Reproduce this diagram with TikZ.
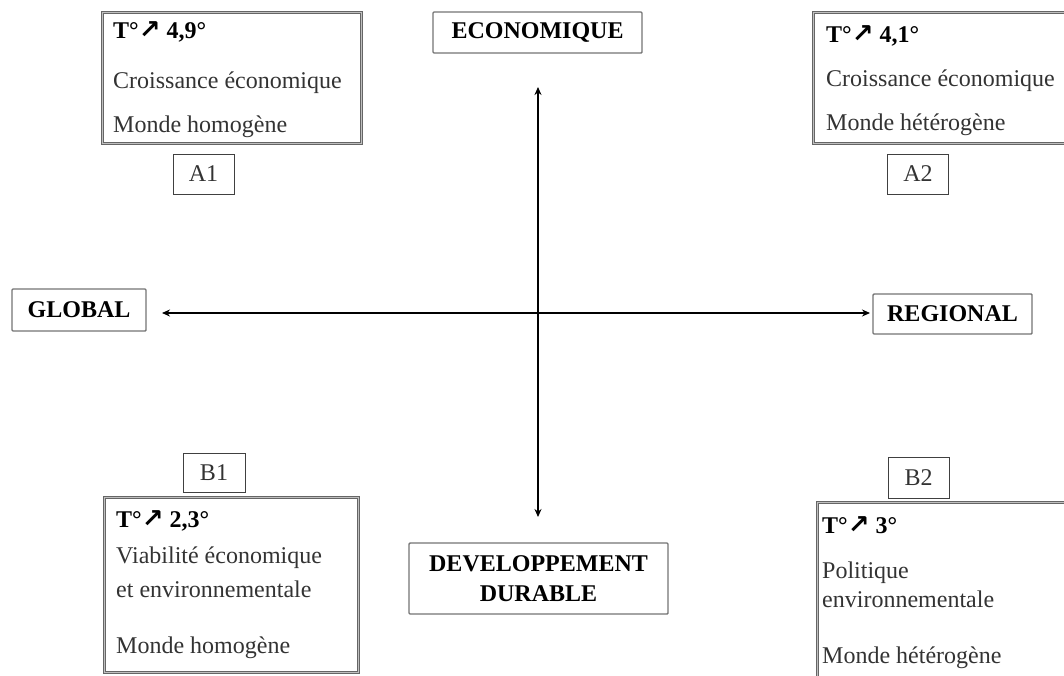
\documentclass[tikz,border=0pt]{standalone}
\usepackage{fontspec}
\setmainfont{Liberation Serif}
\newfontfamily\arrowfont{DejaVu Sans}
\usetikzlibrary{arrows.meta}
\newcommand{\up}{{\arrowfont\bfseries\fontsize{26}{28}\selectfont ↗}}
\begin{document}
\begin{tikzpicture}[x=1pt,y=-1pt,
  bigbox/.style={draw=black!60, double=black!25, double distance=1.1pt, line width=1pt, inner sep=0pt, anchor=north west},
  axisbox/.style={draw=black!55, line width=1.4pt, rounded corners=1pt, inner sep=0pt, font=\fontsize{24}{30}\selectfont\bfseries, align=center},
  lab/.style={draw=black!75, line width=0.9pt, inner sep=0pt, font=\fontsize{24}{28}\selectfont, text=black!80},
  txt/.style={anchor=base west, inner sep=0pt, font=\fontsize{24}{28}\selectfont, text=black!80},
  hd/.style={anchor=base west, inner sep=0pt, font=\fontsize{24}{28}\selectfont\bfseries, text=black},
  axis/.style={line width=1.5pt, {Stealth[length=8pt,width=7pt]}-{Stealth[length=8pt,width=7pt]}}
]
\useasboundingbox (0,0) rectangle (1064,675);
\clip (0,0) rectangle (1064,675);

% top-left scenario
\node[bigbox, minimum width=259pt, minimum height=131pt] (A1box) at (102,12) {};
\node[hd] (A1h) at (113,38) {T°\up\ 4,9°};
\node[txt] (A1a) at (113,88) {Croissance économique};
\node[txt] (A1b) at (113,132) {Monde homogène};
\node[lab, minimum width=61pt, minimum height=40pt] (A1) at (203.5,174) {A1};

% top-right scenario
\node[bigbox, minimum width=260pt, minimum height=131pt] (A2box) at (813,12) {};
\node[hd] (A2h) at (826,42) {T°\up\ 4,1°};
\node[txt] (A2a) at (826,86) {Croissance économique};
\node[txt] (A2b) at (826,130) {Monde hétérogène};
\node[lab, minimum width=61pt, minimum height=40pt] (A2) at (918,174) {A2};

% bottom-left scenario
\node[lab, minimum width=62pt, minimum height=39pt] (B1) at (214,472.5) {B1};
\node[bigbox, minimum width=254pt, minimum height=175pt] (B1box) at (104,497) {};
\node[hd] (B1h) at (116,527) {T°\up\ 2,3°};
\node[txt] (B1a) at (116,563) {Viabilité économique};
\node[txt] (B1b) at (116,597) {et environnementale};
\node[txt] (B1c) at (116,653) {Monde homogène};

% bottom-right scenario
\node[lab, minimum width=61pt, minimum height=41pt] (B2) at (918.5,478) {B2};
\node[bigbox, minimum width=260pt, minimum height=190pt] (B2box) at (817,502) {};
\node[hd] (B2h) at (822,533) {T°\up\ 3°};
\node[txt] (B2a) at (822,578) {Politique};
\node[txt] (B2b) at (822,607) {environnementale};
\node[txt] (B2c) at (822,663) {Monde hétérogène};

% axis labels
\node[axisbox, minimum width=209pt, minimum height=41pt] (eco) at (537.5,32.5) {ECONOMIQUE};
\node[axisbox, minimum width=134pt, minimum height=42pt] (glob) at (79,310) {GLOBAL};
\node[axisbox, minimum width=159pt, minimum height=40pt] (reg) at (952.5,314) {REGIONAL};
\node[axisbox, minimum width=259pt, minimum height=71pt] (dd) at (538.5,578.5) {DEVELOPPEMENT\\DURABLE};

% axes
\coordinate (left) at (162,313);
\coordinate (right) at (870,313);
\coordinate (top) at (538,87);
\coordinate (bottom) at (538,517);
\draw[axis] (left) -- (right);
\draw[axis] (top) -- (bottom);
\end{tikzpicture}
\end{document}
